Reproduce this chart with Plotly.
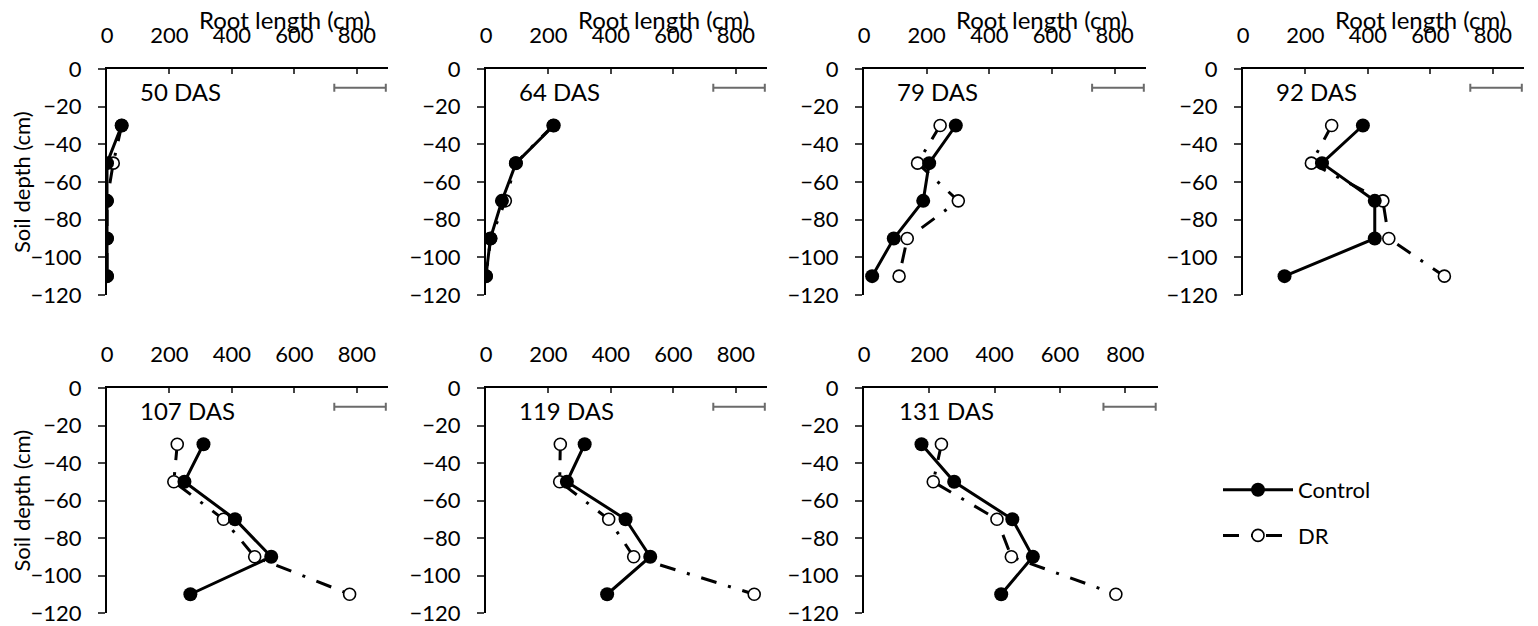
import plotly.graph_objects as go

# sampling days and depths
days = ["50 DAS", "64 DAS", "79 DAS", "92 DAS", "107 DAS", "119 DAS", "131 DAS"]
depth = [-30, -50, -70, -90, -110]

# root length (cm) per depth, one list per sampling day
control = [
    [47, 0, 0, 0, 0],
    [217, 96, 51, 14, 0],
    [293, 208, 189, 95, 26],
    [384, 253, 422, 422, 133],
    [309, 248, 410, 526, 267],
    [316, 259, 447, 526, 388],
    [176, 276, 454, 517, 420],
]
dr = [
    [47, 20, 0, 0, 0],
    [215, 95, 62, 15, 0],
    [243, 171, 301, 138, 112],
    [284, 219, 448, 467, 645],
    [225, 214, 373, 473, 777],
    [238, 236, 393, 473, 859],
    [237, 212, 407, 451, 771],
]
lsd = [165, 165, 165, 165, 165, 165, 160]

x_ticks = [0, 200, 400, 600, 800]
y_ticks = [0, -20, -40, -60, -80, -100, -120]

# the page body has an 8px margin, so the figure is shrunk and shifted by it
PAD = 8
W, H = 1538 - PAD, 626 - PAD
FONT = "Lato"


def sx(p):
    return (p - PAD) / W


def sy(p):
    return 1 - (p - PAD) / H


# panel boxes in screen pixels (left, right, top, bottom)
boxes = [
    (107, 388, 69, 295), (486, 767, 69, 295), (864, 1146, 69, 295), (1243, 1524, 69, 295),
    (107, 388, 388, 613), (486, 767, 388, 613), (864, 1158, 388, 613),
]

fig = go.Figure()
annotations = []

for i, day in enumerate(days):
    n = "" if i == 0 else str(i + 1)
    xa, ya = "x" + n, "y" + n
    first = i == 0
    fig.add_trace(go.Scatter(
        x=dr[i], y=depth, xaxis=xa, yaxis=ya, mode="lines+markers",
        name="DR", showlegend=first, legendgroup="dr", legendrank=2,
        line=dict(color="black", width=3, dash="16px,12px,3px,12px"),
        marker=dict(symbol="circle", size=12, color="white",
                    line=dict(color="black", width=1.6)),
    ))
    fig.add_trace(go.Scatter(
        x=control[i], y=depth, xaxis=xa, yaxis=ya, mode="lines+markers",
        name="Control", showlegend=first, legendgroup="ctrl", legendrank=1,
        line=dict(color="black", width=3),
        marker=dict(symbol="circle", size=14, color="black"),
    ))
    # LSD bar in the top-right corner
    fig.add_trace(go.Scatter(
        x=[893 - lsd[i] / 2], y=[-10], xaxis=xa, yaxis=ya, mode="markers",
        showlegend=False, hoverinfo="skip",
        marker=dict(size=1, color="rgba(0,0,0,0)"),
        error_x=dict(type="data", array=[lsd[i] / 2], color="#6b6b6b",
                     thickness=2, width=4),
    ))

    l, r, t, b = boxes[i]
    fig.layout["xaxis" + n] = dict(
        domain=[sx(l), sx(r)], anchor=ya, side="top", range=[0, 900],
        tickvals=x_ticks, ticks="inside", ticklen=5, tickwidth=2,
        showline=True, linewidth=2, linecolor="black", showgrid=False,
        zeroline=False, ticklabelstandoff=15, automargin=False,
        tickfont=dict(family=FONT, size=22, color="black"),
    )
    fig.layout["yaxis" + n] = dict(
        domain=[sy(b), sy(t)], anchor=xa, range=[-120, 0],
        tickvals=y_ticks, ticks="outside", ticklen=7, tickwidth=2,
        showline=True, linewidth=2, linecolor="black", showgrid=False,
        zeroline=False, ticklabelstandoff=12, automargin=False,
        tickfont=dict(family=FONT, size=22, color="black"),
    )
    annotations.append(dict(
        text=day, xref=xa, yref=ya, x=100, y=-12, xanchor="left",
        showarrow=False, font=dict(family=FONT, size=24, color="black"),
    ))
    if i < 4:
        annotations.append(dict(
            text="Root length (cm)", xref=xa + " domain", yref="paper",
            x=0.63, y=sy(20), xanchor="center", yanchor="middle",
            showarrow=False, font=dict(family=FONT, size=24, color="black"),
        ))
    if i in (0, 4):
        annotations.append(dict(
            text="Soil depth (cm)", xref="paper", yref=ya + " domain",
            x=sx(21), y=0.5, textangle=-90, xanchor="center", yanchor="middle",
            showarrow=False, font=dict(family=FONT, size=22, color="black"),
        ))

fig.update_layout(
    width=W, height=H,
    margin=dict(l=0, r=0, t=0, b=0, autoexpand=False),
    paper_bgcolor="white", plot_bgcolor="white",
    annotations=annotations,
    showlegend=True,
    legend=dict(
        x=sx(1218), y=sy(469), xanchor="left", yanchor="top",
        itemwidth=70, tracegroupgap=14, traceorder="grouped",
        font=dict(family=FONT, size=22, color="black"),
        bgcolor="rgba(0,0,0,0)",
    ),
)

fig.write_html("out.html")
